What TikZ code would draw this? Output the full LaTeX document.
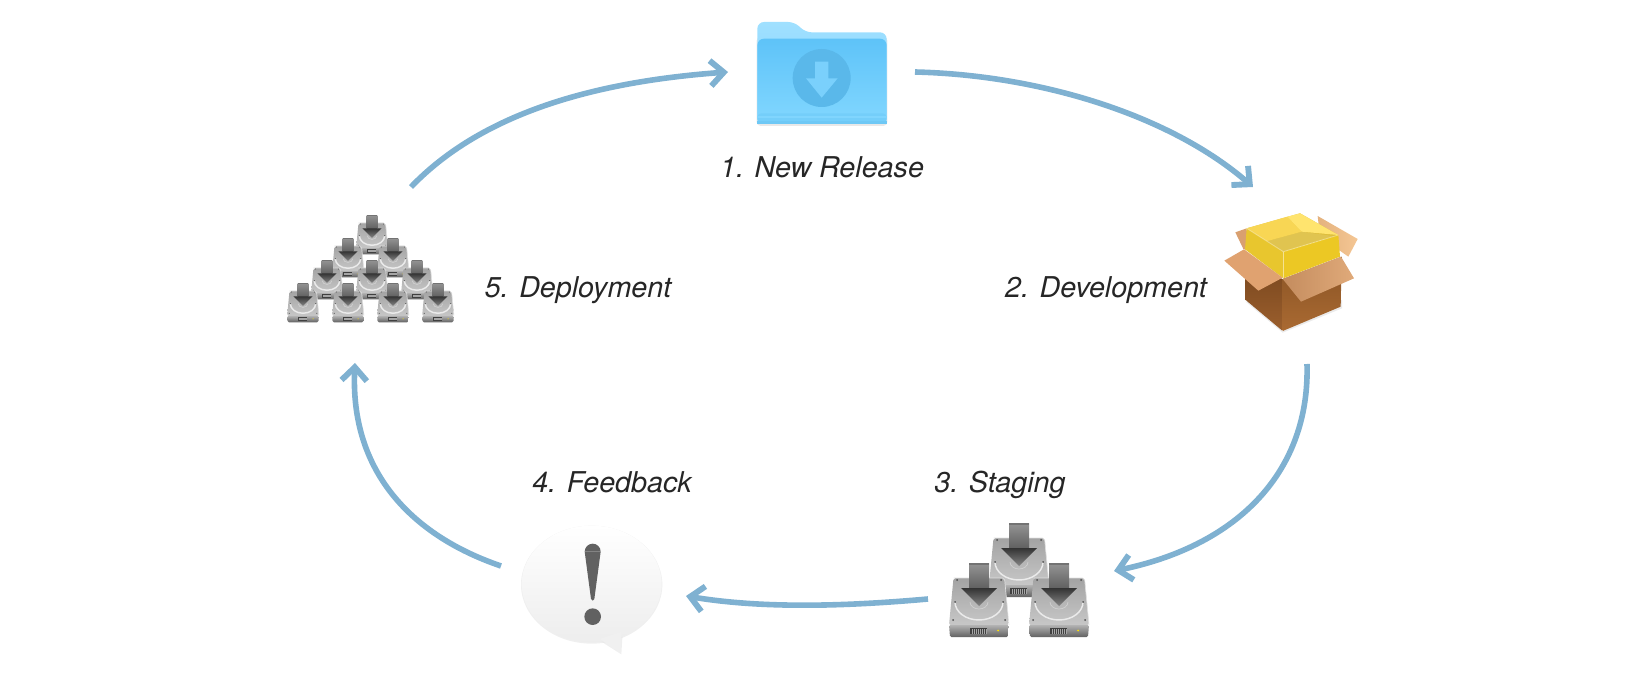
\documentclass[tikz,border=0pt]{standalone}
\usepackage{fontspec}
\setmainfont{TeX Gyre Heros}
\usetikzlibrary{arrows.meta,calc,shadows}
\definecolor{flowc}{HTML}{7FB1D1}
\tikzset{
  flow/.style={draw=flowc,line width=4.2pt,-{Straight Barb[length=10pt,width=19pt,line width=4.4pt]}},
  lab/.style={font=\fontsize{21.5}{25}\selectfont\itshape,text=black!85,inner sep=0pt,anchor=base},
  anchorbox/.style 2 args={minimum width=#1*0.75pt,minimum height=#2*0.75pt,inner sep=0pt,outer sep=0pt},
  hdd/.pic={
    \shade[top color=black!36,bottom color=black!22,rounded corners=1.5pt] (-25.5,0) -- (25.5,0) -- (30,47) -- (-30,47) -- cycle;
    \draw[black!12,line width=.5pt,rounded corners=1.5pt] (-25.5,0) -- (25.5,0) -- (30,47);
    \draw[black!8,line width=1.1pt] (-24,24) arc[start angle=180,end angle=0,x radius=24,y radius=18];
    \draw[black!18,line width=.5pt] (-9,24) arc[start angle=180,end angle=0,x radius=9,y radius=7];
    \shade[top color=black!30,bottom color=black!62,rounded corners=1pt] (-30,47) -- (30,47) -- (29,59) -- (-29,59) -- cycle;
    \fill[black!75] (-9,50) rectangle (8,56);
    \foreach \xx in {-7.5,-5.5,...,7}{\fill[black!35] (\xx,50.5) rectangle +(.7,5);}
    \fill[yellow!85!orange] (19,52.5) circle (1);
    \foreach \xx/\yy in {-22/2,22/2,-26/42,26/42,-24/24,24/24}{\fill[black!70] (\xx,\yy) circle (1);}
    \shade[top color=black!42,bottom color=black!62] (-10,-15) -- (10,-15) -- (10,10) -- (-10,10) -- cycle;
    \shade[top color=black!80,bottom color=black!48] (-18,10) -- (18,10) -- (0,28) -- cycle;
    \fill[black!55] (-10,-15) rectangle (10,-13);
  },
}
\begin{document}
\begin{tikzpicture}[x=0.75pt,y=-0.75pt]
\useasboundingbox (0,0) rectangle (1645,680);
% ---- folder
\begin{scope}[shift={(740,0)},scale=1/3]
  \fill[black!30,opacity=.3,rounded corners=3pt] (50,110) rectangle (442,378);
  \shade[top color={rgb,255:red,160;green,224;blue,255},bottom color={rgb,255:red,125;green,210;blue,255},rounded corners=5pt]
    (52,372) -- (52,66) -- (165,66) -- (195,97) -- (440,97) -- (440,372) -- cycle;
  \shade[top color={rgb,255:red,94;green,195;blue,248},bottom color={rgb,255:red,130;green,215;blue,255},rounded corners=5pt]
    (52,372) -- (52,116) -- (440,116) -- (440,372) -- cycle;
  \fill[fill={rgb,255:red,116;green,206;blue,250},rounded corners=3pt] (52,372) -- (52,340) -- (440,340) -- (440,372) -- cycle;
  \fill[fill={rgb,255:red,128;green,213;blue,254}] (52,347) rectangle (440,354);
  \fill[fill={rgb,255:red,110;green,200;blue,245}] (52,362) rectangle (440,372);
  \fill[fill={rgb,255:red,90;green,184;blue,234}] (245,234) circle (87);
  \fill[fill={rgb,255:red,122;green,208;blue,252}] (225,185) -- (265,185) -- (265,235) -- (293,235) -- (245,293) -- (198,235) -- (225,235) -- cycle;
\end{scope}
% ---- package box
\begin{scope}[shift={(1210,200)},scale=1/3]
  \fill[black!20,opacity=.4] (107,305) -- (218,398) -- (396,325) -- (396,300) -- cycle;
  \fill[fill={rgb,255:red,217;green,160;blue,112}] (76,97) -- (110,85) -- (112,150) -- (100,147) -- cycle;
  \shade[left color={rgb,255:red,228;green,178;blue,126},right color={rgb,255:red,244;green,198;blue,148}] (323,48) -- (443,117) -- (415,170) -- (330,110) -- cycle;
  \shade[top color={rgb,255:red,120;green,70;blue,30},bottom color={rgb,255:red,155;green,95;blue,45}] (107,190) -- (218,237) -- (218,393) -- (107,300) -- cycle;
  \shade[top color={rgb,255:red,135;green,82;blue,36},bottom color={rgb,255:red,170;green,106;blue,50}] (218,237) -- (395,170) -- (392,320) -- (218,393) -- cycle;
  % yellow block
  \fill[fill={rgb,255:red,222;green,190;blue,60}] (110,85) -- (270,40) -- (385,105) -- (220,155) -- cycle;
  \fill[fill={rgb,255:red,224;green,196;blue,80}] (165,125) -- (275,95) -- (370,108) -- (220,155) -- cycle;
  \fill[fill={rgb,255:red,248;green,214;blue,84}] (110,85) -- (232,50) -- (275,95) -- (165,125) -- cycle;
  \fill[fill={rgb,255:red,255;green,228;blue,110}] (232,50) -- (270,40) -- (385,105) -- (275,95) -- cycle;
  \fill[fill={rgb,255:red,232;green,198;blue,46}] (110,85) -- (220,155) -- (220,235) -- (105,148) -- cycle;
  \fill[fill={rgb,255:red,236;green,200;blue,36}] (220,155) -- (385,105) -- (390,170) -- (220,235) -- cycle;
  \draw[white,opacity=.35,line width=.7pt] (110,85) -- (220,155) -- (385,105);
  \draw[white,opacity=.35,line width=.7pt] (220,155) -- (220,235);
  % front flaps
  \fill[fill={rgb,255:red,224;green,162;blue,112}] (43,182) -- (102,148) -- (218,233) -- (145,272) -- cycle;
  \shade[left color={rgb,255:red,196;green,140;blue,94},right color={rgb,255:red,224;green,170;blue,122}] (218,237) -- (393,170) -- (432,235) -- (273,305) -- cycle;
\end{scope}
% ---- staging drives
\pic at (1019,538) {hdd};
\pic at (979,578) {hdd};
\pic at (1059,578) {hdd};
% ---- feedback bubble
\begin{scope}[shift={(510,515)},scale=1/3]
  \fill[black!10,opacity=.6] (245,209) ellipse (212 and 177);
  \fill[black!10,opacity=.6] (268,376) -- (334,418) -- (338,352) -- cycle;
  \shade[top color=white,bottom color=black!7] (35,207)
     arc[start angle=180,end angle=360,x radius=210,y radius=175]
     arc[start angle=0,end angle=180,x radius=210,y radius=175] -- cycle;
  \fill[black!6] (270,372) -- (332,415) -- (335,350) -- cycle;
  \fill[black!62] (224,110) arc[start angle=180,end angle=360,radius=24] -- cycle;
  \fill[black!62] (224,110) -- (272,110) -- (253,252) arc[start angle=0,end angle=180,radius=5] -- cycle;
  \fill[black!62] (248,305) circle (25);
\end{scope}
% ---- deployment drives
\foreach \px/\py in {372/223, 348/246, 393/246, 327/268, 372/268, 417/268, 303/291, 348/291, 393/291, 438/291}{
  \pic[scale=.53] at (\px,\py) {hdd};
}
% ---- connector boxes
\node[anchorbox={187}{104}] (folder) at (821.5,72) {};
\node[anchorbox={54}{177}] (box) at (1280,275.5) {};
\node[anchorbox={186}{28}] (staging) at (1021,585) {};
\node[anchorbox={185}{30}] (bubble) at (593.5,581) {};
\node[anchorbox={56}{176}] (deploy) at (383,275) {};
% ---- connectors
\draw[flow] (deploy.north east) .. controls (480,115) and (590,82) .. (folder.west);
\draw[flow] (folder.east) .. controls (1040,75) and (1170,115) .. (box.north west);
\draw[flow] (box.south east) .. controls (1310,470) and (1240,545) .. (staging.north east);
\draw[flow] (staging.south west) .. controls (860,605) and (770,610) .. (bubble.south east);
\draw[flow] (bubble.north west) .. controls (410,535) and (350,470) .. (deploy.south west);
% ---- labels
\node[lab] (l1) at (822,177.5) {1. New Release};
\node[lab] (l2) at (1106,298) {2. Development};
\node[lab] (l3) at (1000,493) {3. Staging};
\node[lab] (l4) at (612,493) {4. Feedback};
\node[lab] (l5) at (578,298) {5. Deployment};
\end{tikzpicture}
\end{document}
